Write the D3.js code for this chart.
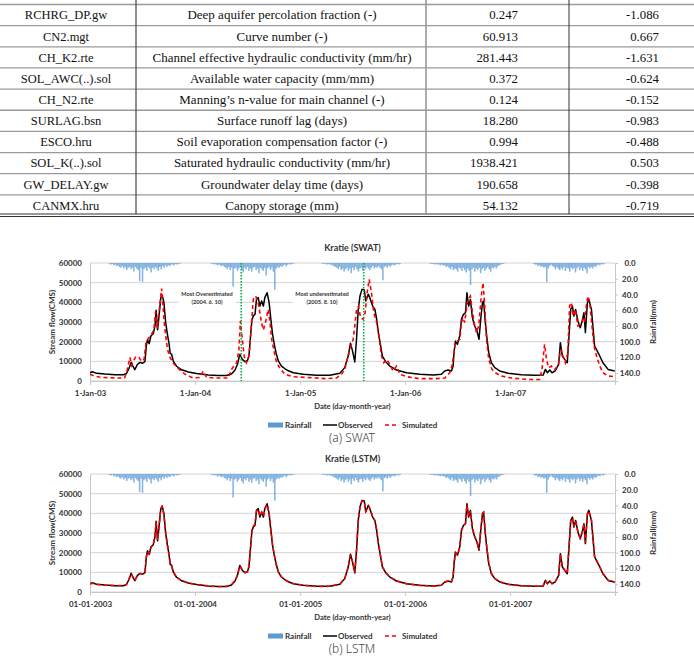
<!DOCTYPE html>
<html>
<head>
<meta charset="utf-8">
<script src="https://cdn.jsdelivr.net/npm/d3@7"></script>
<style>
  body { margin: 0; background: #fff; }
  text { font-family: Lato, "Open Sans", sans-serif; }
</style>
</head>
<body>
<script>
// parameter table (bottom part of the table that is visible)
const paramNames = ["RCHRG_DP.gw", "CN2.mgt", "CH_K2.rte", "SOL_AWC(..).sol", "CH_N2.rte",
  "SURLAG.bsn", "ESCO.hru", "SOL_K(..).sol", "GW_DELAY.gw", "CANMX.hru"];
const paramDesc = ["Deep aquifer percolation fraction (-)", "Curve number (-)",
  "Channel effective hydraulic conductivity (mm/hr)", "Available water capacity (mm/mm)",
  "Manning\u2019s n-value for main channel (-)", "Surface runoff lag (days)",
  "Soil evaporation compensation factor (-)", "Saturated hydraulic conductivity (mm/hr)",
  "Groundwater delay time (days)", "Canopy storage (mm)"];
const paramValue = ["0.247", "60.913", "281.443", "0.372", "0.124", "18.280", "0.994", "1938.421", "190.658", "54.132"];
const paramSens = ["-1.086", "0.667", "-1.631", "-0.624", "-0.152", "-0.983", "-0.488", "0.503", "-0.398", "-0.719"];

// stream flow, [days since 1-Jan-2003, CMS]
const observed = [[0,4200],[8,4700],[23,3900],[52,3500],[87,3200],[116,3200],[127,3800],[136,6500],[143,9500],[151,7000],[156,5800],[165,8500],[174,9500],[182,9000],[191,9800],[196,18000],[200,21000],[206,19000],[212,23000],[220,24000],[226,28000],[230,36000],[235,26000],[240,33000],[246,42000],[251,43700],[257,40000],[263,30000],[269,24000],[275,19000],[279,14000],[284,13500],[290,10000],[301,7500],[319,5700],[342,4600],[371,3800],[411,3100],[446,2800],[475,2800],[492,3600],[504,5500],[513,8500],[521,13500],[530,11000],[539,9800],[548,10500],[553,13000],[558,22000],[563,31000],[568,33000],[574,34000],[579,41500],[585,42400],[591,38100],[597,40700],[603,38100],[608,42400],[616,44900],[623,39800],[629,31400],[635,23700],[641,18600],[647,14400],[655,10200],[666,7600],[684,5600],[707,4200],[742,3400],[788,2900],[834,2900],[869,3900],[886,6800],[898,12700],[906,19200],[913,15300],[921,9700],[927,21200],[933,36400],[939,43200],[946,46600],[954,46300],[959,40700],[968,44100],[973,42400],[983,38100],[991,36400],[997,31400],[1003,24600],[1010,18600],[1017,12700],[1029,9700],[1043,7600],[1066,5600],[1101,4200],[1147,3400],[1194,3000],[1222,3400],[1234,5100],[1245,5600],[1257,5100],[1263,7600],[1266,14400],[1271,20300],[1278,18600],[1286,22900],[1292,31400],[1299,33900],[1306,34700],[1311,44900],[1317,38100],[1323,41500],[1330,32200],[1338,28000],[1346,25400],[1353,21200],[1359,31400],[1365,39800],[1369,40700],[1375,29700],[1381,21200],[1387,14400],[1396,9300],[1408,6800],[1425,5100],[1454,3900],[1500,3200],[1547,2900],[1576,3000],[1584,5900],[1591,4200],[1599,5600],[1607,4200],[1618,5100],[1630,8500],[1636,19500],[1643,12700],[1651,11000],[1660,9300],[1666,22900],[1672,36400],[1678,38100],[1683,33000],[1689,36400],[1697,30500],[1705,27100],[1712,30500],[1718,34700],[1723,24600],[1730,39800],[1735,41500],[1744,36400],[1749,28000],[1755,17800],[1764,15300],[1773,12700],[1784,9300],[1802,5900],[1825,5100]];

const swatSim = [[0,3500],[15,2500],[40,1800],[100,1500],[120,1600],[127,4200],[139,12000],[145,8000],[150,10000],[160,12500],[170,12000],[180,10000],[188,11000],[195,20000],[205,22000],[215,24000],[222,26000],[228,35000],[234,27000],[240,35000],[249,47000],[253,40000],[258,30000],[264,22000],[270,16000],[278,12000],[290,9000],[301,7300],[320,4500],[336,3000],[359,1500],[380,1800],[394,5000],[405,2000],[430,1500],[481,1500],[492,5900],[510,9300],[518,16000],[523,30500],[530,21000],[536,12700],[544,9300],[553,12700],[562,29700],[568,41500],[576,43200],[585,39800],[597,29300],[603,26000],[610,29700],[620,36400],[626,29700],[632,21000],[640,15300],[649,9300],[661,6300],[678,3400],[707,2200],[765,1700],[823,1200],[857,1500],[875,3400],[886,5900],[895,11000],[904,16000],[915,21000],[921,28000],[927,36400],[934,38000],[941,32200],[950,31400],[957,34700],[964,44900],[971,51700],[979,44900],[987,34700],[997,29700],[1006,21200],[1014,12700],[1022,9300],[1031,11000],[1043,8500],[1054,5100],[1066,7600],[1078,3400],[1101,2200],[1147,1200],[1199,1200],[1234,1500],[1251,4200],[1259,7600],[1266,14400],[1271,19500],[1286,21200],[1292,29700],[1297,32200],[1303,29700],[1309,36400],[1315,41500],[1323,43200],[1329,36400],[1336,29700],[1344,24600],[1352,28000],[1361,43200],[1367,50000],[1373,38100],[1379,21200],[1387,11000],[1398,5900],[1413,3900],[1431,2500],[1466,1500],[1523,800],[1564,800],[1572,5900],[1581,18600],[1588,11000],[1595,6800],[1605,7600],[1616,5900],[1628,7600],[1637,16100],[1645,12700],[1653,9300],[1662,14400],[1668,38100],[1674,39800],[1681,33000],[1688,36400],[1697,28000],[1705,28800],[1715,31400],[1720,29700],[1726,38100],[1732,43200],[1738,39800],[1746,28000],[1753,17800],[1762,12700],[1773,7600],[1784,4200],[1802,2500],[1825,2200]];

const lstmSim = [[0,4000],[8,4500],[23,3800],[52,3500],[87,3300],[116,3200],[127,3900],[136,6800],[143,9200],[151,7200],[156,6000],[165,8300],[174,9400],[182,9100],[191,10000],[196,17500],[200,20500],[206,19500],[212,22500],[220,24500],[226,28500],[230,35500],[235,26500],[240,33500],[246,42500],[251,43500],[257,39500],[263,30500],[269,24500],[275,18500],[279,14500],[284,13000],[290,10200],[301,7600],[319,5800],[342,4500],[371,3700],[411,3100],[446,2700],[475,2900],[492,3700],[504,5700],[513,8700],[521,13200],[530,11200],[539,9900],[548,10300],[553,13300],[558,21500],[563,30500],[568,33500],[574,34500],[579,41000],[585,42000],[591,38500],[597,40500],[603,38500],[608,42000],[616,44500],[623,40000],[629,31800],[635,24000],[641,18800],[647,14600],[655,10400],[666,7700],[684,5700],[707,4300],[742,3400],[788,2800],[834,2900],[869,4000],[886,7000],[898,12400],[906,18800],[913,15500],[921,9900],[927,20800],[933,36000],[939,43000],[946,46300],[954,46000],[959,41000],[968,43800],[973,42600],[983,38400],[991,36000],[997,31600],[1003,24800],[1010,18800],[1017,12900],[1029,9800],[1043,7700],[1066,5700],[1101,4200],[1147,3300],[1194,3000],[1222,3400],[1234,5000],[1245,5500],[1257,5200],[1263,7800],[1266,14000],[1271,19800],[1278,18900],[1286,22600],[1292,31000],[1299,33600],[1306,34900],[1311,44300],[1317,38400],[1323,41200],[1330,32600],[1338,28300],[1346,25600],[1353,21500],[1359,31000],[1365,39400],[1369,40300],[1375,30000],[1381,21500],[1387,14600],[1396,9500],[1408,6900],[1425,5200],[1454,3900],[1500,3200],[1547,2900],[1576,3100],[1584,5700],[1591,4300],[1599,5500],[1607,4300],[1618,5200],[1630,8700],[1636,19000],[1643,12900],[1651,11200],[1660,9500],[1666,22500],[1672,36000],[1678,37800],[1683,33300],[1689,36000],[1697,30800],[1705,27400],[1712,30200],[1718,34400],[1723,25000],[1730,39400],[1735,41200],[1744,36700],[1749,28300],[1755,18000],[1764,15500],[1773,12900],[1784,9400],[1802,6000],[1825,5000]];

// rainfall, mm, one value per 5-day period of each year
const rain2003 = [0,0,0,0,0,0,0,0,0,0,0,0,0,1,2,1,3,2,4,3,5,6,4,7,5,9,6,5,8,6,11,5,7,9,23,6,24,8,6,10,5,7,12,6,8,5,7,10,5,8,4,6,3,5,3,4,2,2,3,1,2,1,1,0,0,0,0,0,0,0,0,0,0];
const rain2004 = [0,0,0,0,0,0,0,0,0,0,0,1,1,2,1,3,2,3,4,3,5,6,8,5,9,6,30,7,6,10,7,5,9,12,6,8,5,10,7,11,6,5,9,7,13,6,8,10,6,16,7,5,9,6,11,34,7,5,6,4,5,3,2,4,2,1,2,1,1,0,0,0,0];
const rain2005 = [0,0,0,0,0,0,0,0,0,0,0,0,0,0,0,1,1,1,2,1,2,2,3,4,5,6,8,5,9,7,11,8,6,10,7,13,6,9,5,8,11,7,6,10,6,8,5,7,9,6,4,7,5,6,4,6,8,22,5,4,6,3,5,3,2,3,2,1,2,1,0,0,0];
const rain2006 = [0,0,0,0,0,0,0,0,0,0,0,0,0,0,0,0,0,1,1,1,2,1,2,2,3,2,3,3,5,4,6,8,5,9,7,8,11,6,7,10,6,9,12,7,10,28,8,6,11,7,9,6,13,8,6,10,7,5,8,11,6,7,5,7,4,3,2,1,1,0,0,0,0];
const rain2007 = [0,0,0,0,0,0,0,0,0,0,0,0,0,0,0,0,1,2,2,4,3,5,4,6,5,24,7,4,2,4,5,8,5,7,9,6,8,5,10,6,7,11,6,8,6,12,7,5,9,6,10,6,8,13,5,7,5,7,4,5,3,2,3,1,2,1,0,0,0,0,0,0,0];
const rainYears = [2003, 2004, 2005, 2006, 2007];

const flowTicks = [0, 10000, 20000, 30000, 40000, 50000, 60000];
const rainTicks = [0, 20, 40, 60, 80, 100, 120, 140];
const yearTicks = [2003, 2004, 2005, 2006, 2007];

// marked dates in the SWAT panel
const markDays = ["2004-06-10", "2005-08-10"];
const notes = [
  { date: "2004-02-12", flow: 44200, lines: ["Most Overestimated", "(2004. 6. 10)"] },
  { date: "2005-03-18", flow: 44200, lines: ["Most underestimated", "(2005. 8. 10)"] }
];

const svg = d3.select("body").append("svg")
  .attr("width", 694)
  .attr("height", 658);

// ---- table ----
const tTop = 4.5, rowH = 21.15;
const table = svg.append("g");
for (let i = 0; i < 10; i++) {
  table.append("line")
    .attr("x1", 0).attr("x2", 694)
    .attr("y1", tTop + i * rowH).attr("y2", tTop + i * rowH)
    .attr("stroke", "#9a9a9a").attr("stroke-width", 1.3);
}
const tBottom = tTop + 10 * rowH;
[tBottom - 2, tBottom + 0.5].forEach(y => {
  table.append("line").attr("x1", 0).attr("x2", 694).attr("y1", y).attr("y2", y)
    .attr("stroke", "#333").attr("stroke-width", 1);
});
[[136, "#444", 1.2], [426, "#999", 1.6], [569, "#333", 1]].forEach(([x, c, w]) => {
  table.append("line").attr("x1", x).attr("x2", x).attr("y1", 0).attr("y2", tBottom - 2)
    .attr("stroke", c).attr("stroke-width", w);
});
const cols = [
  { data: paramNames, x: 66, anchor: "middle", size: 12.5 },
  { data: paramDesc, x: 282, anchor: "middle", size: 13 },
  { data: paramValue, x: 518, anchor: "end", size: 12.8 },
  { data: paramSens, x: 659, anchor: "end", size: 12.8 }
];
cols.forEach(c => {
  table.selectAll(null).data(c.data).enter().append("text")
    .attr("x", c.x)
    .attr("y", (d, i) => tTop + (i + 0.5) * rowH + 4.3)
    .attr("text-anchor", c.anchor)
    .style("font-family", "'Liberation Serif', 'Times New Roman', serif")
    .style("font-size", c.size + "px")
    .attr("fill", "#111")
    .text(d => d);
});

// ---- charts ----
const x0 = 90, x1 = 615, plotH = 118;
const start = new Date(2003, 0, 1);
const dayToDate = d => d3.timeDay.offset(start, d);
const parseDate = d3.timeParse("%Y-%m-%d");

const x = d3.scaleTime()
  .domain([start, new Date(2008, 0, 1)])
  .range([x0, x1]);

const rainBars = [];
[rain2003, rain2004, rain2005, rain2006, rain2007].forEach((arr, k) => {
  arr.forEach((v, p) => {
    const d = d3.timeDay.offset(new Date(rainYears[k], 0, 1), 5 * p);
    rainBars.push({ date: d, end: d3.timeDay.offset(d, 5), v: v });
  });
});

function drawPanel(top, sim, tickFmt, title, caption, withMarks, id) {
  const bottom = top + plotH;
  const y = d3.scaleLinear().domain([0, 60000]).range([bottom, top]);
  const yr = d3.scaleLinear().domain([0, 150]).range([top, bottom]);
  const g = svg.append("g");
  const ink = "#333";

  g.append("clipPath").attr("id", id).append("rect")
    .attr("x", x0).attr("y", top).attr("width", x1 - x0).attr("height", plotH);

  // grid
  g.selectAll(null).data(flowTicks).enter().append("line")
    .attr("x1", x0).attr("x2", x1)
    .attr("y1", d => y(d)).attr("y2", d => y(d))
    .attr("stroke", "#d4d4d4").attr("stroke-width", 1);

  // left axis
  const ax = g.append("g").attr("transform", `translate(${x0},0)`)
    .call(d3.axisLeft(y).tickValues(flowTicks).tickSize(0).tickPadding(8).tickFormat(d3.format("d")));
  ax.select(".domain").attr("stroke", "#c8c8c8");
  ax.selectAll("text").style("font-size", "8px").style("font-weight", "700").attr("fill", ink);

  // right axis
  const ar = g.append("g").attr("transform", `translate(${x1},0)`)
    .call(d3.axisRight(yr).tickValues(rainTicks).tickSize(3).tickPadding(3).tickFormat(d3.format(".1f")));
  ar.select(".domain").attr("stroke", "#c8c8c8");
  ar.selectAll(".tick line").attr("stroke", "#c8c8c8");
  ar.selectAll("text").attr("text-anchor", "middle").attr("x", 15)
    .style("font-size", "8px").style("font-weight", "700").attr("fill", ink);

  // bottom axis
  const ab = g.append("g").attr("transform", `translate(0,${bottom})`)
    .call(d3.axisBottom(x).tickValues(yearTicks.map(yy => new Date(yy, 0, 1))).tickSize(4).tickPadding(5)
      .tickFormat(d3.timeFormat(tickFmt)));
  ab.select(".domain").attr("stroke", "#c8c8c8");
  ab.selectAll(".tick line").attr("stroke", "#c8c8c8");
  ab.selectAll("text").style("font-size", "8px").style("font-weight", "700").attr("fill", ink);

  // rainfall hanging from the top
  g.append("g").selectAll("rect").data(rainBars.filter(d => d.v > 0)).enter().append("rect")
    .attr("x", d => x(d.date))
    .attr("width", d => x(d.end) - x(d.date) + 0.1)
    .attr("y", top)
    .attr("height", d => yr(d.v) - top)
    .attr("fill", "#5b9bd5")
    .attr("opacity", 0.75);

  const line = d3.line()
    .x(d => x(dayToDate(d[0])))
    .y(d => y(d[1]));

  const lines = g.append("g").attr("clip-path", `url(#${id})`);
  lines.append("path").datum(observed)
    .attr("d", line).attr("fill", "none")
    .attr("stroke", "#000").attr("stroke-width", 1.5).attr("stroke-linejoin", "round");
  lines.append("path").datum(sim)
    .attr("d", line).attr("fill", "none")
    .attr("stroke", "#ff0000").attr("stroke-width", 1.6).attr("stroke-dasharray", "4,3");

  if (withMarks) {
    g.selectAll(null).data(markDays).enter().append("line")
      .attr("x1", d => x(parseDate(d))).attr("x2", d => x(parseDate(d)))
      .attr("y1", top).attr("y2", bottom)
      .attr("stroke", "#00b050").attr("stroke-width", 1.6).attr("stroke-dasharray", "1.4,1.6");
    notes.forEach(n => {
      const cx = x(parseDate(n.date)), cy = y(n.flow);
      g.append("rect").attr("x", cx - 29).attr("y", cy - 7).attr("width", 58).attr("height", 18).attr("fill", "#fff");
      n.lines.forEach((t, i) => {
        g.append("text").attr("x", cx).attr("y", cy + 2 + i * 8)
          .attr("text-anchor", "middle")
          .style("font-size", "5.6px").style("font-weight", "700").attr("fill", "#333")
          .text(t);
      });
    });
  }

  // titles
  g.append("text").attr("x", (x0 + x1) / 2).attr("y", top - 12)
    .attr("text-anchor", "middle").style("font-size", "9px").style("font-weight", "700").attr("fill", ink)
    .text(title);
  g.append("text").attr("x", (x0 + x1) / 2).attr("y", bottom + 28)
    .attr("text-anchor", "middle").style("font-size", "7.6px").style("font-weight", "700").attr("fill", ink)
    .text("Date (day-month-year)");
  g.append("text").attr("transform", `translate(55,${(top + bottom) / 2}) rotate(-90)`)
    .attr("text-anchor", "middle").style("font-size", "8px").style("font-weight", "700").attr("fill", ink)
    .text("Stream flow(CMS)");
  g.append("text").attr("transform", `translate(656,${(top + bottom) / 2}) rotate(-90)`)
    .attr("text-anchor", "middle").style("font-size", "8px").style("font-weight", "700").attr("fill", ink)
    .text("Rainfall(mm)");

  // legend
  const ly = top + 162;
  const lg = g.append("g");
  lg.append("rect").attr("x", 268).attr("y", ly - 2.5).attr("width", 15).attr("height", 5).attr("fill", "#5b9bd5");
  lg.append("text").attr("x", 285).attr("y", ly + 3).text("Rainfall");
  lg.append("line").attr("x1", 323).attr("x2", 337).attr("y1", ly).attr("y2", ly).attr("stroke", "#000").attr("stroke-width", 1.5);
  lg.append("text").attr("x", 338).attr("y", ly + 3).text("Observed");
  lg.append("line").attr("x1", 385).attr("x2", 399).attr("y1", ly).attr("y2", ly)
    .attr("stroke", "#ff0000").attr("stroke-width", 1.6).attr("stroke-dasharray", "4,3");
  lg.append("text").attr("x", 402).attr("y", ly + 3).text("Simulated");
  lg.selectAll("text").style("font-size", "8px").style("font-weight", "700").attr("fill", ink);

  svg.append("text").attr("x", 352).attr("y", top + 179)
    .attr("text-anchor", "middle")
    .style("font-family", "'Noto Sans', 'Open Sans', sans-serif")
    .style("font-size", "12px").style("font-weight", "300").attr("fill", "#444")
    .text(caption);
}

drawPanel(263, swatSim, "%-d-%b-%y", "Kratie (SWAT)", "(a) SWAT", true, "clipA");
drawPanel(474, lstmSim, "%d-%m-%Y", "Kratie (LSTM)", "(b) LSTM", false, "clipB");
</script>
</body>
</html>
